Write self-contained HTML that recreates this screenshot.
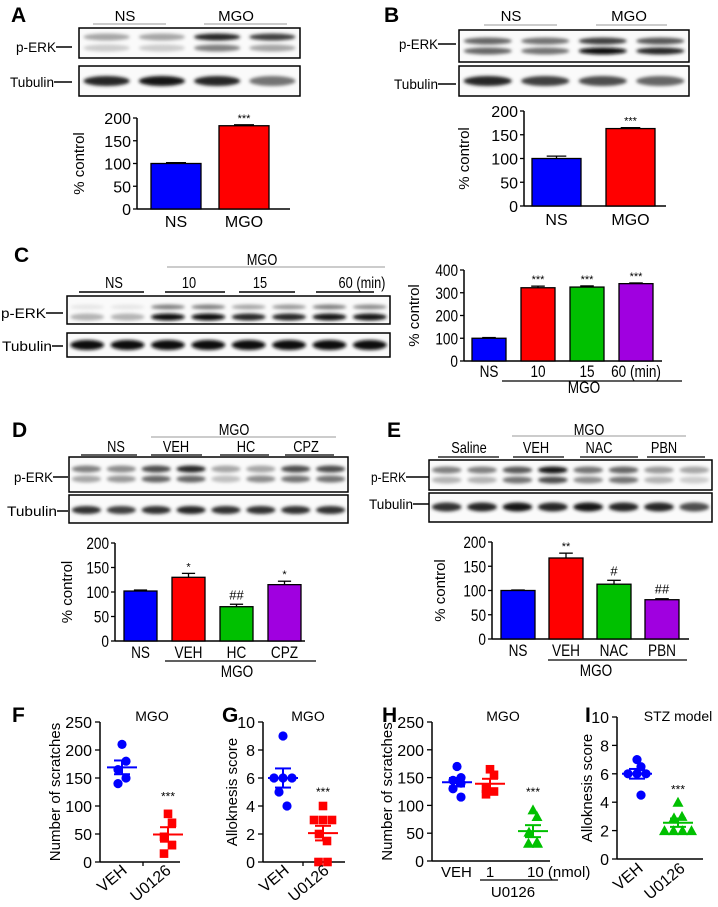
<!DOCTYPE html>
<html><head><meta charset="utf-8"><style>
html,body{margin:0;padding:0;background:#fff;}
svg{display:block;font-family:"Liberation Sans",Arial,sans-serif;}
</style></head><body>
<svg id="fig" width="718" height="907" viewBox="0 0 718 907" xmlns="http://www.w3.org/2000/svg">
<defs><filter id="blur" x="-20%" y="-100%" width="140%" height="300%"><feGaussianBlur stdDeviation="1.6"/></filter></defs>
</svg>
<script>
// ---- data ----
const aCats=['NS','MGO'];const aVals=[100,183];const aErr=[2,2];const aSig=['','***'];
const bCats=['NS','MGO'];const bVals=[100,163];const bErr=[5,2];const bSig=['','***'];
const cCats=['NS','10','15','60 (min)'];const cVals=[100,322,325,340];const cErr=[3,7,5,3];const cSig=['','***','***','***'];
const dCats=['NS','VEH','HC','CPZ'];const dVals=[102,130,70,115];const dErr=[2,8,5,7];const dSig=['','*','##','*'];
const eCats=['NS','VEH','NAC','PBN'];const eVals=[100,167,113,81];const eErr=[1,10,8,2];const eSig=['','**','#','##'];
const barTicks200=[0,50,100,150,200];const barTicks400=[0,100,200,300,400];
const fVeh=[210,180,165,150,140];const fU=[86,70,45,30,15];
const gVeh=[9,6,6,6,5,4];const gU=[4,3,3,3,2,1.5,0,0];
const hVeh=[170,150,145,140,130,115];const h1=[165,155,130,125,120];const h10=[92,80,52,34,32,32];
const iVeh=[7,6.5,6,6,6,4.5];const iU=[4,3,2.9,2,2,2,2];
const scatTicks250=[0,50,100,150,200,250];const scatTicks10=[0,2,4,6,8,10];
const COLORS=['#0000ff','#ff0000','#00c000','#a000e0'];

const svg=document.getElementById('fig');
const NS='http://www.w3.org/2000/svg';
function mk(tag,attrs,name){const e=document.createElementNS(NS,tag);for(const k in attrs)e.setAttribute(k,attrs[k]);


svg.appendChild(e);return e;}
function line(x1,y1,x2,y2,name,w,c){return mk('line',{x1,y1,x2,y2,stroke:c||'#000','stroke-width':w||1.3},name);}
function txt(x,y,s,size,anchor,name,extra,sx){
  const a=Object.assign({'font-size':size,'text-anchor':anchor||'middle',fill:'#000'},extra||{});
  if(sx&&!a.transform){a.x=0;a.y=0;a.transform=`translate(${x},${y}) scale(${sx},1)`;}else{a.x=x;a.y=y;}
  const e=mk('text',a,name);e.textContent=s;return e;}
const N=0.8;

function letter(x,y,s){txt(x,y,s,21,'start','panel-label-'+s.toLowerCase(),{'font-weight':'bold'});}

function blot(x,y,w,h,rows,name){
  mk('rect',{x,y,width:w,height:h,fill:'#fafafa',stroke:'#000','stroke-width':1.5},name);
  const n=rows[0].v.length, lw=w/n;
  rows.forEach(r=>{r.v.forEach((v,i)=>{
    const g=Math.round(255*(1-v));
    mk('ellipse',{cx:x+lw*(i+0.5),cy:r.y,rx:lw*0.42,ry:r.h||3.5,fill:`rgb(${g},${g},${g})`,filter:'url(#blur)'},name+'-band');
  });});
}
function rowLabel(x1,x2,y,s,lx2,name){const e=txt(x1,y+5,s,14,'start',name,{textLength:x2-x1,lengthAdjust:'spacingAndGlyphs'});line(x2,y,lx2,y,name+'-tick',1.5);}

function barChart(o){
  const sy=v=>o.y0-(v/o.max)*(o.y0-o.yTop);
  const fs=o.fs||16, sx=o.sx||1;
  line(o.ax,o.yTop,o.ax,o.y0,o.id+'-y-axis',1.5);
  line(o.ax,o.y0,o.axEnd,o.y0,o.id+'-x-axis',1.5);
  o.ticks.forEach(t=>{line(o.ax-4,sy(t),o.ax,sy(t),o.id+'-y-tick',1.3);txt(o.ax-6,sy(t)+6,String(t),fs,'end',o.id+'-y-tick-label',null,sx);});
  txt(0,0,'% control',15,'middle',o.id+'-y-axis-title',{transform:`translate(${o.titleX},${(o.yTop+o.y0)/2}) rotate(-90)`});
  o.vals.forEach((v,i)=>{
    const bx=o.x0+o.step*i, cx=bx+o.w/2, top=sy(v), et=sy(v+o.err[i]);
    line(cx,et,cx,top,o.id+'-error-bar',1.3);line(cx-o.w*0.2,et,cx+o.w*0.2,et,o.id+'-error-cap',1.3);
    mk('rect',{x:bx,y:top,width:o.w,height:o.y0-top,fill:COLORS[i],stroke:'#000','stroke-width':1.3},o.id+'-bar-'+o.cats[i].split(' ')[0].toLowerCase());
    txt(cx,o.labY,o.cats[i],fs,'middle',o.id+'-x-label',null,sx);
    if(o.sig[i]){const star=o.sig[i].includes('*');txt(cx,et-(star?3:5),o.sig[i],star?11:13,'middle',o.id+'-significance');}
  });
}

function scatter(o){
  const sy=v=>o.y0-(v/o.max)*(o.y0-o.yTop);
  line(o.ax,o.yTop,o.ax,o.y0,o.id+'-y-axis',1.5);
  line(o.ax,o.y0,o.axEnd,o.y0,o.id+'-x-axis',1.5);
  o.ticks.forEach(t=>{line(o.ax-5,sy(t),o.ax,sy(t),o.id+'-y-tick',1.3);txt(o.ax-8,sy(t)+6,String(t),16,'end',o.id+'-y-tick-label');});
  (o.xticks||[]).forEach(xt=>line(xt,o.y0,xt,o.y0+4,o.id+'-x-tick',1.3));
  txt(0,0,o.title,15,'middle',o.id+'-y-axis-title',{transform:`translate(${o.titleX},${(o.yTop+o.y0)/2}) rotate(-90)`});
  o.groups.forEach(g=>{
    const c=COLORS[g.color];
    const n=g.vals.length, mean=g.vals.reduce((a,b)=>a+b,0)/n;
    const sd=Math.sqrt(g.vals.reduce((a,b)=>a+(b-mean)**2,0)/(n-1)), sem=sd/Math.sqrt(n);
    const counts={};
    g.vals.forEach((v,i)=>{
      const k=Math.round(v*100);counts[k]=(counts[k]||0)+1;
      const same=g.vals.filter(x=>Math.round(x*100)===k).length;
      const idx=counts[k]-1, off=(idx-(same-1)/2)*9 + (same===1?((i%2)?4:-4)*(i>0?1:0):0);
      const px=g.x+off, py=sy(v);
      if(g.shape==='circle')mk('circle',{cx:px,cy:py,r:4.6,fill:c},o.id+'-point');
      else if(g.shape==='square')mk('rect',{x:px-4.3,y:py-4.3,width:8.6,height:8.6,fill:c},o.id+'-point');
      else mk('polygon',{points:`${px},${py-5.5} ${px-5.5},${py+4.5} ${px+5.5},${py+4.5}`,fill:c},o.id+'-point');
    });
    line(g.x-15,sy(mean),g.x+15,sy(mean),o.id+'-mean-line',2,c);
    line(g.x,sy(mean+sem),g.x,sy(mean-sem),o.id+'-sem-line',2,c);
    line(g.x-8,sy(mean+sem),g.x+8,sy(mean+sem),o.id+'-sem-cap',2,c);
    line(g.x-8,sy(mean-sem),g.x+8,sy(mean-sem),o.id+'-sem-cap',2,c);
    if(g.sig)txt(g.x,sy(o.sigVal),g.sig,12,'middle',o.id+'-significance');
  });
}

// ---------- Panel A ----------
letter(11,22,'A');
txt(125,21,'NS',15,'middle','a-ns-header');line(93,24,166,24,'a-ns-line',1,'#999');
txt(236,21,'MGO',15,'middle','a-mgo-header');line(204,24,287,24,'a-mgo-line',1,'#999');
blot(79,28,221,30,[{y:37,v:[.35,.35,.85,.75]},{y:48,v:[.2,.2,.5,.35]}],'a-perk-blot');
blot(79,66,221,30,[{y:81,v:[.85,.9,.85,.55],h:5}],'a-tubulin-blot');
rowLabel(16,56,47,'p-ERK',72,'a-perk-label');rowLabel(10,54,82,'Tubulin',72,'a-tubulin-label');
barChart({id:'a',ax:137,axEnd:290,y0:209,yTop:118,max:200,ticks:barTicks200,x0:151,step:68,w:50,vals:aVals,err:aErr,cats:aCats,sig:aSig,labY:227,titleX:84});

// ---------- Panel B ----------
letter(384,22,'B');
txt(511,21,'NS',15,'middle','b-ns-header');line(484,25,557,25,'b-ns-line',1,'#999');
txt(629,21,'MGO',15,'middle','b-mgo-header');line(596,25,667,25,'b-mgo-line',1,'#999');
blot(459,30,230,32,[{y:41,v:[.6,.55,.75,.65]},{y:51,v:[.6,.55,.95,.85]}],'b-perk-blot');
blot(459,66,230,30,[{y:81,v:[.85,.75,.7,.6],h:5}],'b-tubulin-blot');
rowLabel(399,438,44,'p-ERK',456,'b-perk-label');rowLabel(394,438,84,'Tubulin',456,'b-tubulin-label');
barChart({id:'b',ax:524,axEnd:666,y0:206,yTop:111,max:200,ticks:barTicks200,x0:532,step:74,w:49,vals:bVals,err:bErr,cats:bCats,sig:bSig,labY:225,titleX:469});

// ---------- Panel C ----------
letter(14,262,'C');
txt(262,265,'MGO',16,'middle','c-mgo-header',null,N);line(167,267,385,267,'c-mgo-line',1,'#999');
txt(114,288,'NS',16,'middle','c-ns-header',null,N);txt(189,288,'10',16,'middle','c-10-header',null,N);txt(260,288,'15',16,'middle','c-15-header',null,N);txt(362,288,'60 (min)',16,'middle','c-60-header',null,N);
line(79,292,144,292,'c-ns-line',1.5);line(165,292,225,292,'c-10-line',1.5);line(239,292,295,292,'c-15-line',1.5);line(316,292,374,292,'c-60-line',1.5);
blot(67,296,323,28,[{y:307,v:[.1,.1,.5,.5,.35,.4,.5,.45],h:2.5},{y:317,v:[.3,.3,.95,.95,.85,.85,.9,.9]}],'c-perk-blot');
blot(67,333,323,24,[{y:345,v:[.95,.95,.95,.95,.95,.95,.95,.95],h:5}],'c-tubulin-blot');
rowLabel(1,46,313,'p-ERK',63,'c-perk-label');rowLabel(2,52,346,'Tubulin',63,'c-tubulin-label');
barChart({id:'c',ax:464,axEnd:662,y0:361,yTop:270,max:400,ticks:barTicks400,x0:472,step:49,w:34,vals:cVals,err:cErr,cats:cCats,sig:cSig,labY:377,titleX:419,sx:N,fs:17});
line(502,381,682,381,'c-mgo-group-line',1.3);txt(584,393,'MGO',17,'middle','c-mgo-group-label',null,N);

// ---------- Panel D ----------
letter(12,437,'D');
txt(234,435,'MGO',16,'middle','d-mgo-header',null,N);line(151,437,336,437,'d-mgo-line',1,'#999');
[['NS',116],['VEH',176],['HC',246],['CPZ',306]].forEach(p=>txt(p[1],452,p[0],16,'middle','d-header-'+p[0].toLowerCase(),null,N));
line(81,455,137,455,'d-ns-line',1.3);line(151,455,202,455,'d-veh-line',1.3);line(220,455,269,455,'d-hc-line',1.3);line(285,455,334,455,'d-cpz-line',1.3);
blot(69,457,279,35,[{y:469,v:[.5,.45,.7,.85,.35,.35,.7,.7]},{y:479,v:[.35,.4,.6,.6,.25,.45,.55,.55]}],'d-perk-blot');
blot(69,495,279,28,[{y:510,v:[.8,.75,.8,.85,.8,.8,.8,.8],h:4}],'d-tubulin-blot');
rowLabel(14,53,477,'p-ERK',68,'d-perk-label');rowLabel(7,57,511,'Tubulin',68,'d-tubulin-label');
barChart({id:'d',ax:115,axEnd:305,y0:641,yTop:543,max:200,ticks:barTicks200,x0:124,step:48,w:33,vals:dVals,err:dErr,cats:dCats,sig:dSig,labY:658,titleX:72,sx:N,fs:17});
line(165,661,316,661,'d-mgo-group-line',1.3);txt(237,677,'MGO',17,'middle','d-mgo-group-label',null,N);

// ---------- Panel E ----------
letter(387,437,'E');
txt(589,435,'MGO',16,'middle','e-mgo-header',null,N);line(512,436,686,436,'e-mgo-line',1,'#999');
[['Saline',469],['VEH',536],['NAC',599],['PBN',664]].forEach(p=>txt(p[1],453,p[0],16,'middle','e-header-'+p[0].toLowerCase(),null,N));
line(438,457,499,457,'e-saline-line',1.3);line(513,457,564,457,'e-veh-line',1.3);line(580,457,638,457,'e-nac-line',1.3);line(647,457,705,457,'e-pbn-line',1.3);
blot(429,460,283,30,[{y:470,v:[.5,.5,.65,.9,.55,.6,.4,.35]},{y:480,v:[.3,.3,.55,.7,.45,.55,.3,.2]}],'e-perk-blot');
blot(429,493,283,29,[{y:507,v:[.8,.85,.9,.85,.9,.85,.85,.7],h:4.5}],'e-tubulin-blot');
rowLabel(371,406,477,'p-ERK',429,'e-perk-label');rowLabel(369,413,504,'Tubulin',429,'e-tubulin-label');
barChart({id:'e',ax:492,axEnd:689,y0:639,yTop:542,max:200,ticks:barTicks200,x0:501,step:48,w:34,vals:eVals,err:eErr,cats:eCats,sig:eSig,labY:656,titleX:445,sx:N,fs:17});
line(548,660,687,660,'e-mgo-group-line',1.3);txt(596,676,'MGO',17,'middle','e-mgo-group-label',null,N);

// ---------- Panel F ----------
letter(12,722,'F');
txt(152,721,'MGO',14,'middle','f-title');
scatter({id:'f',ax:100,axEnd:180,y0:862,yTop:722,max:250,ticks:scatTicks250,xticks:[143],title:'Number of scratches',titleX:60,sigVal:110,
 groups:[{x:122,vals:fVeh,color:0,shape:'circle'},{x:168,vals:fU,color:1,shape:'square',sig:'***'}]});
txt(0,0,'VEH',16,'end','f-x-label-veh',{transform:'translate(128,872) rotate(-40)'});
txt(0,0,'U0126',16,'end','f-x-label-u0126',{transform:'translate(172,872) rotate(-40)'});

// ---------- Panel G ----------
letter(222,722,'G');
txt(308,721,'MGO',14,'middle','g-title');
scatter({id:'g',ax:263,axEnd:345,y0:862,yTop:722,max:10,ticks:scatTicks10,xticks:[303],title:'Alloknesis score',titleX:237,sigVal:4.7,
 groups:[{x:283,vals:gVeh,color:0,shape:'circle'},{x:323,vals:gU,color:1,shape:'square',sig:'***'}]});
txt(0,0,'VEH',16,'end','g-x-label-veh',{transform:'translate(290,872) rotate(-40)'});
txt(0,0,'U0126',16,'end','g-x-label-u0126',{transform:'translate(330,872) rotate(-40)'});

// ---------- Panel H ----------
letter(382,722,'H');
txt(503,721,'MGO',14,'middle','h-title');
scatter({id:'h',ax:432,axEnd:550,y0:861,yTop:722,max:250,ticks:scatTicks250,title:'Number of scratches',titleX:392,sigVal:117,
 groups:[{x:457,vals:hVeh,color:0,shape:'circle'},{x:490,vals:h1,color:1,shape:'square'},{x:533,vals:h10,color:2,shape:'triangle',sig:'***'}]});
txt(441,877,'VEH',15,'start','h-x-label-veh');
txt(490,877,'1',15,'middle','h-x-label-1');
txt(527,877,'10 (nmol)',15,'start','h-x-label-10');
line(480,880,558,880,'h-u0126-group-line',1.3);
txt(513,897,'U0126',15,'middle','h-u0126-group-label');

// ---------- Panel I ----------
letter(585,722,'I');
txt(678,721,'STZ model',14,'middle','i-title');
scatter({id:'i',ax:617,axEnd:703,y0:859,yTop:717,max:10,ticks:scatTicks10,title:'Alloknesis score',titleX:592,sigVal:4.6,
 groups:[{x:637,vals:iVeh,color:0,shape:'circle'},{x:678,vals:iU,color:2,shape:'triangle',sig:'***'}]});
txt(0,0,'VEH',16,'end','i-x-label-veh',{transform:'translate(644,870) rotate(-40)'});
txt(0,0,'U0126',16,'end','i-x-label-u0126',{transform:'translate(686,870) rotate(-40)'});
</script>
</body></html>
